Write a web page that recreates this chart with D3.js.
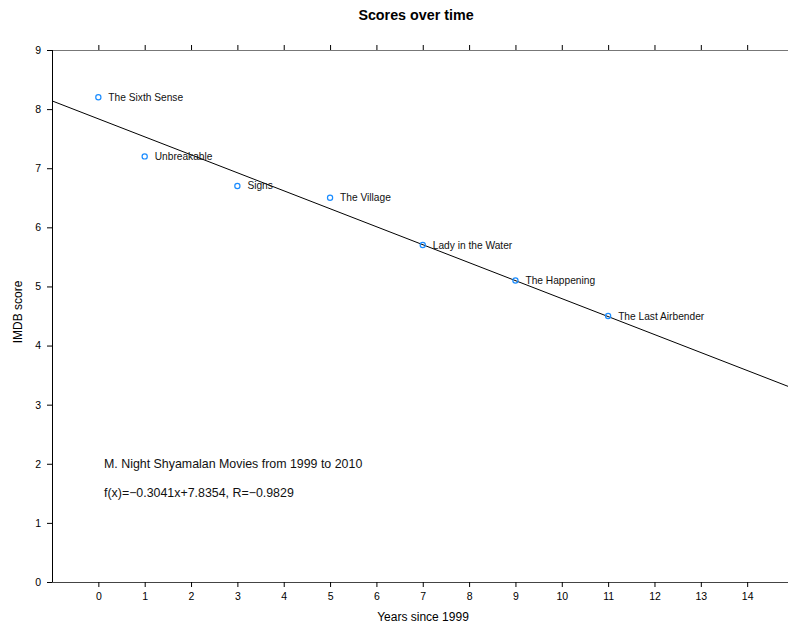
<!DOCTYPE html>
<html><head><meta charset="utf-8">
<script src="https://cdn.jsdelivr.net/npm/d3@7"></script>
<style>body{margin:0;background:#fff}svg{display:block}text{font-family:"Liberation Sans",Arial,Helvetica,sans-serif}</style>
</head><body>
<svg id="c" width="788" height="624"></svg>
<script>
const titles = ["The Sixth Sense","Unbreakable","Signs","The Village","Lady in the Water","The Happening","The Last Airbender"];
const years = [0,1,3,5,7,9,11];
const scores = [8.2,7.2,6.7,6.5,5.7,5.1,4.5];
const xTicks = [0,1,2,3,4,5,6,7,8,9,10,11,12,13,14];
const yTicks = [0,1,2,3,4,5,6,7,8,9];
const slope = -0.3041, intercept = 7.8354;
const notes = ["M. Night Shyamalan Movies from 1999 to 2010","f(x)=\u22120.3041x+7.8354, R=\u22120.9829"];

const svg = d3.select("#c");
const L = 52, T = 50, B = 582;
const x = d3.scaleLinear().domain([-1, 15]).range([L, 793.5]);
const y = d3.scaleLinear().domain([0, 9]).range([B, T]);

svg.append("text").attr("x",416).attr("y",20).attr("text-anchor","middle")
  .attr("font-size",14.3).attr("font-weight","bold").text("Scores over time");

const gb = svg.append("g").attr("transform",`translate(0,${B})`)
  .call(d3.axisBottom(x).tickValues(xTicks).tickSize(5).tickPadding(6).tickFormat(d3.format("d")));
const gt = svg.append("g").attr("transform",`translate(0,${T})`)
  .call(d3.axisTop(x).tickValues(xTicks).tickSize(5).tickFormat(""));
const gl = svg.append("g").attr("transform",`translate(${L},0)`)
  .call(d3.axisLeft(y).tickValues(yTicks).tickSize(5).tickPadding(6).tickFormat(d3.format("d")));
[gb,gt,gl].forEach(g=>{
  g.selectAll("text").attr("font-size",10.5).attr("fill","#000").style("font-family",'"Liberation Sans",Arial,sans-serif');
  g.selectAll("line").attr("stroke","#000");
});
gb.select(".domain").attr("stroke","#444").attr("d",`M${L},0.5H788`);
gt.select(".domain").attr("stroke","#777").attr("d",`M${L},0.5H788`);
gl.select(".domain").attr("stroke","#000").attr("d",`M0.5,${T}V${B}`);

svg.append("clipPath").attr("id","pc").append("rect")
  .attr("x",L).attr("y",T).attr("width",788-L).attr("height",B-T);
svg.append("line").attr("clip-path","url(#pc)")
  .attr("x1",x(-1)).attr("y1",y(intercept+slope*-1))
  .attr("x2",x(15)).attr("y2",y(intercept+slope*15))
  .attr("stroke","#000").attr("stroke-width",1);

const pts = years.map((d,i)=>({x:d,y:scores[i],t:titles[i]}));
svg.selectAll("circle.p").data(pts).join("circle")
  .attr("cx",d=>x(d.x)).attr("cy",d=>y(d.y)).attr("r",2.6)
  .attr("fill","none").attr("stroke","#1a8cff").attr("stroke-width",1.2);
svg.selectAll("text.lab").data(pts).join("text").attr("class","lab")
  .attr("x",d=>x(d.x)+10).attr("y",d=>y(d.y)+3.5).attr("font-size",10.2).attr("fill","#111").text(d=>d.t);

svg.selectAll("text.note").data(notes).join("text").attr("class","note")
  .attr("x",104).attr("y",(d,i)=>467.5+i*29).attr("font-size",12.4).attr("fill","#111").text(d=>d);

svg.append("text").attr("x",423).attr("y",621).attr("text-anchor","middle").attr("font-size",12).text("Years since 1999");
svg.append("text").attr("transform",`translate(22,${(T+B)/2 - 4}) rotate(-90)`).attr("text-anchor","middle").attr("font-size",12).text("IMDB score");
</script>
</body></html>
